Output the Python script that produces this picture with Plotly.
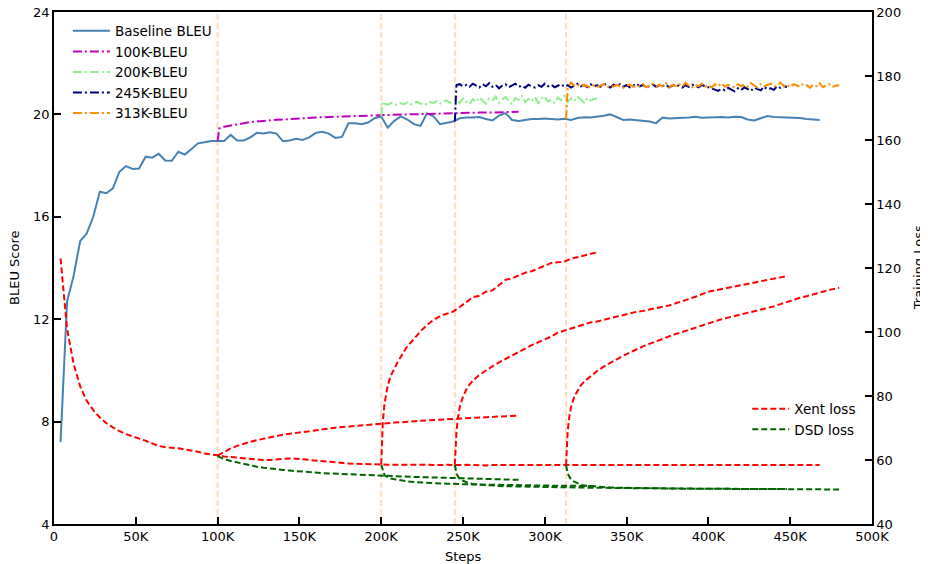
import plotly.graph_objects as go

# ---------------- data ----------------
baseline_steps = list(range(4000, 468001, 4000))
baseline_bleu = [
    7.2, 12.7, 13.7, 15.05, 15.35, 16.0, 16.98, 16.92, 17.11, 17.76,
    17.98, 17.87, 17.89, 18.35, 18.31, 18.46, 18.2, 18.19, 18.54, 18.43,
    18.65, 18.87, 18.91, 18.96, 18.96, 18.96, 19.2, 18.98, 18.98, 19.1,
    19.28, 19.25, 19.3, 19.25, 18.95, 18.98, 19.05, 19.0, 19.1, 19.28,
    19.32, 19.25, 19.08, 19.12, 19.65, 19.65, 19.62, 19.68, 19.85, 19.92,
    19.48, 19.75, 19.92, 19.8, 19.62, 19.55, 20.04, 19.92, 19.62, 19.66,
    19.72, 19.85, 19.88, 19.88, 19.9, 19.82, 19.76, 19.95, 20.05, 19.78,
    19.74, 19.78, 19.82, 19.82, 19.84, 19.82, 19.8, 19.83, 19.78, 19.86,
    19.89, 19.88, 19.91, 19.95, 20.0, 19.9, 19.78, 19.8, 19.77, 19.76,
    19.72, 19.66, 19.88, 19.84, 19.85, 19.85, 19.88, 19.91, 19.87, 19.88,
    19.89, 19.9, 19.88, 19.91, 19.9, 19.8, 19.76, 19.86, 19.94, 19.9,
    19.89, 19.88, 19.89, 19.86, 19.82, 19.79, 19.78,
]
baseline_xent = [
    123.0, 101.0, 90.0, 83.0, 78.5, 75.6, 73.3, 71.5, 70.2, 69.0,
    68.1, 67.4, 66.9, 66.0, 65.2, 64.4, 64.0, 63.9, 63.7, 63.3,
    63.0, 62.6, 62.0, 61.8, 61.5, 61.1, 60.9, 60.7, 60.6, 60.4,
    60.2, 60.0, 60.0, 60.2, 60.4, 60.5, 60.4, 60.2, 60.0, 59.8,
    59.5, 59.3, 59.1, 59.0, 58.9, 58.8, 58.8, 58.7, 58.7, 58.6,
    58.5, 58.6, 58.5, 58.5, 58.4, 58.5, 58.5, 58.4, 58.4, 58.5,
    58.4, 58.4, 58.5, 58.4, 58.4, 58.3, 58.4, 58.4, 58.5, 58.4,
    58.4, 58.4, 58.3, 58.4, 58.4, 58.4, 58.5, 58.4, 58.4, 58.4,
    58.4, 58.5, 58.4, 58.4, 58.3, 58.4, 58.4, 58.4, 58.4, 58.5,
    58.4, 58.4, 58.4, 58.3, 58.4, 58.4, 58.4, 58.5, 58.4, 58.4,
    58.4, 58.3, 58.4, 58.4, 58.4, 58.4, 58.5, 58.4, 58.4, 58.4,
    58.4, 58.4, 58.3, 58.4, 58.4, 58.4, 58.4,
]

ft100_bleu_steps = [100000, 101000] + list(range(104000, 284001, 4000))
ft100_bleu = [
    18.96, 19.45,
    19.52, 19.57, 19.62, 19.66, 19.70, 19.72, 19.75, 19.77, 19.79, 19.80,
    19.82, 19.83, 19.85, 19.86, 19.88, 19.89, 19.90, 19.91, 19.92, 19.93,
    19.94, 19.95, 19.95, 19.96, 19.97, 19.98, 19.98, 19.99, 20.00, 20.01,
    20.01, 20.02, 20.03, 20.03, 20.04, 20.05, 20.05, 20.06, 20.06, 20.07,
    20.07, 20.08, 20.08, 20.09, 20.09, 20.10,
]

ft200_bleu_steps = [200000, 201000] + list(range(202000, 332001, 2000))
ft200_bleu = [
    19.92, 20.5,
    20.42, 20.38, 20.45, 20.40, 20.36, 20.44, 20.40, 20.47, 20.39, 20.43,
    20.50, 20.41, 20.46, 20.38, 20.48, 20.44, 20.52, 20.42, 20.47, 20.55,
    20.45, 20.50,
    20.58, 20.44, 20.62, 20.50, 20.40, 20.60, 20.48, 20.66, 20.52, 20.42,
    20.62, 20.55, 20.70, 20.46, 20.58, 20.68, 20.50, 20.40, 20.64, 20.56,
    20.72, 20.48, 20.60, 20.52, 20.68, 20.44, 20.62, 20.70, 20.50, 20.58,
    20.45, 20.66, 20.55, 20.72, 20.48, 20.62, 20.52, 20.68, 20.58, 20.46,
    20.64, 20.55, 20.60, 20.62,
]

ft245_bleu_steps = [245000, 246000] + list(range(248000, 448001, 2000))
ft245_bleu = [
    19.72, 21.15,
    21.18, 21.10, 21.15, 21.08, 21.20, 21.12, 21.05, 21.18, 21.10, 21.22,
    21.08, 21.15, 21.02, 21.12, 21.18, 21.06, 21.14, 21.20, 21.08, 21.12,
    21.04, 21.16, 21.10, 21.05, 21.14, 21.08, 21.20,
    21.10, 21.16, 21.06, 21.12, 21.18, 21.08, 21.14, 21.05, 21.12, 21.20,
    21.10, 21.15, 21.06, 21.18, 21.10, 21.14, 21.08, 21.22, 21.12, 21.05,
    21.16, 21.10, 21.18, 21.08, 21.14, 21.06, 21.12, 21.20, 21.10, 21.15,
    21.05, 21.12, 21.18, 21.08, 21.14, 21.10, 21.16, 21.06, 21.12, 21.18,
    21.10, 21.05, 21.14, 21.08, 21.16, 21.12, 21.06, 21.15, 21.10, 21.08,
    21.02, 20.96, 20.92, 21.00, 20.94, 21.04, 20.98, 20.90, 21.02, 20.95,
    21.06, 20.98, 20.92, 21.04, 21.00, 20.94, 21.08, 20.98, 21.02, 20.96,
    21.10, 21.04, 21.12, 21.06,
]

ft313_bleu_steps = [313000, 314000] + list(range(316000, 480001, 2000))
ft313_bleu = [
    19.82, 21.0,
    21.25, 21.12, 21.18, 21.08, 21.15, 21.10, 21.05, 21.14, 21.08, 21.12,
    21.18, 21.06, 21.12, 21.08, 21.15, 21.10, 21.04, 21.12, 21.16, 21.08,
    21.14, 21.10, 21.18,
    21.06, 21.14, 21.20, 21.08, 21.16, 21.10, 21.22, 21.05, 21.15, 21.10,
    21.18, 21.08, 21.24, 21.12, 21.06, 21.16, 21.10, 21.20, 21.08, 21.14,
    21.05, 21.18, 21.10, 21.22, 21.08, 21.15, 21.12, 21.06, 21.18, 21.10,
    21.16, 21.08, 21.22, 21.12, 21.05, 21.18, 21.10, 21.15, 21.20, 21.08,
    21.14, 21.24, 21.10, 21.16, 21.06, 21.18, 21.12, 21.08, 21.20, 21.14,
    21.04, 21.16, 21.10, 21.22, 21.06, 21.14, 21.18, 21.08, 21.12, 21.15,
]

ft100_loss_steps = list(range(100000, 284001, 4000))
ft100_xent = [
    61.4, 62.6, 63.6, 64.4, 65.1, 65.7, 66.2, 66.7, 67.1, 67.5,
    67.9, 68.2, 68.5, 68.8, 69.1, 69.4, 69.6, 69.9, 70.1, 70.3,
    70.5, 70.7, 70.9, 71.1, 71.2, 71.4, 71.5, 71.7, 71.8, 72.0,
    72.1, 72.3, 72.4, 72.5, 72.6, 72.8, 72.9, 73.0, 73.1, 73.2,
    73.3, 73.4, 73.5, 73.6, 73.7, 73.8, 73.9,
]
ft100_dsd = [
    61.2, 60.3, 59.7, 59.2, 58.7, 58.3, 57.9, 57.6, 57.3, 57.1,
    56.9, 56.7, 56.5, 56.3, 56.2, 56.0, 55.9, 55.8, 55.7, 55.6,
    55.5, 55.4, 55.3, 55.2, 55.1, 55.0, 54.95, 54.9, 54.85, 54.8,
    54.7, 54.65, 54.6, 54.5, 54.45, 54.4, 54.35, 54.3, 54.25, 54.2,
    54.1, 54.05, 54.0, 53.95, 53.9, 53.85, 53.8,
]

ft200_loss_steps = [200000, 200500, 201000, 202000, 203000, 204000, 206000,
                    208000, 210000, 212000] + list(range(216000, 332001, 4000))
ft200_xent = [
    58.7, 66.0, 72.0, 77.5, 81.0, 83.3, 86.5, 88.7, 90.5, 92.3,
    95.6, 97.8, 100.2, 102.2, 103.8, 105.0, 105.8, 106.4, 107.8, 109.3,
    110.9, 111.3, 112.6, 113.0, 114.8, 116.3, 116.8, 117.6, 118.5, 119.0,
    119.9, 120.6, 121.6, 121.8, 122.0, 122.9, 123.4, 123.8, 124.2, 124.9,
]
ft200_dsd = [
    58.6, 57.6, 56.5, 55.3, 54.9, 54.6, 54.2, 54.0, 53.8, 53.6,
    53.3, 53.1, 52.95, 52.8, 52.7, 52.65, 52.6, 52.5, 52.45, 52.4,
    52.35, 52.3, 52.3, 52.25, 52.2, 52.2, 52.15, 52.1, 52.1, 52.05,
    52.0, 52.0, 52.0, 51.95, 51.95, 51.9, 51.9, 51.9, 51.85, 51.85,
]

ft245_loss_steps = [245000, 245500, 246000, 247000, 248000, 250000, 252000,
                    254000, 256000] + list(range(260000, 448001, 4000))
ft245_xent = [
    58.5, 64.0, 69.0, 73.5, 76.5, 79.8, 82.0, 83.6, 84.8,
    86.6, 88.0, 89.3, 90.5, 91.6, 92.7, 93.8, 95.0, 95.9, 96.8,
    97.6, 98.6, 99.8, 100.4, 101.0, 101.8, 102.4, 103.0, 103.3, 103.8,
    104.3, 104.9, 105.4, 105.9, 106.3, 106.6, 107.1, 107.5, 107.9, 108.3,
    108.9, 109.6, 110.3, 111.0, 111.8, 112.6, 113.0, 113.4, 113.9, 114.4,
    114.8, 115.2, 115.6, 116.0, 116.4, 116.8, 117.1, 117.5,
]
ft245_dsd = [
    58.5, 57.0, 55.8, 54.8, 54.2, 53.5, 53.0, 52.7, 52.5,
    52.3, 52.1, 52.0, 51.9, 51.8, 51.75, 51.7, 51.65, 51.6, 51.55,
    51.5, 51.5, 51.45, 51.4, 51.4, 51.35, 51.35, 51.3, 51.3, 51.3,
    51.25, 51.25, 51.2, 51.2, 51.2, 51.15, 51.15, 51.15, 51.1, 51.1,
    51.1, 51.1, 51.05, 51.05, 51.05, 51.0, 51.0, 51.0, 51.0, 51.0,
    50.95, 50.95, 50.95, 50.95, 50.9, 50.9, 50.9, 50.9,
]

ft313_loss_steps = [313000, 313500, 314000, 315000, 316000, 318000, 320000,
                    322000, 324000] + list(range(328000, 480001, 4000))
ft313_xent = [
    58.4, 64.0, 69.0, 73.5, 76.5, 79.8, 81.8, 83.3, 84.5,
    86.3, 87.8, 89.2, 90.4, 91.6, 92.6, 93.6, 94.6, 95.5, 96.3,
    97.1, 97.9, 98.7, 99.4, 100.0, 100.7, 101.4, 102.1, 102.8, 103.4,
    104.0, 104.5, 105.0, 105.4, 105.9, 106.5, 107.0, 107.5, 108.0, 108.7,
    109.4, 110.1, 110.7, 111.2, 111.8, 112.4, 112.9, 113.4, 113.8,
]
ft313_dsd = [
    58.4, 57.0, 55.8, 54.8, 54.0, 53.2, 52.7, 52.3, 52.0,
    51.8, 51.65, 51.5, 51.4, 51.35, 51.3, 51.25, 51.2, 51.2, 51.15,
    51.15, 51.1, 51.1, 51.1, 51.05, 51.05, 51.05, 51.0, 51.0, 51.0,
    51.0, 50.95, 50.95, 50.95, 50.95, 50.9, 50.9, 50.9, 50.9, 50.9,
    50.9, 50.85, 50.85, 50.85, 50.85, 50.85, 50.8, 50.8, 50.8,
]

finetune_starts = [100000, 200000, 245000, 313000]

x_tick_vals = [0, 50000, 100000, 150000, 200000, 250000, 300000, 350000, 400000, 450000, 500000]
x_tick_text = ["0", "50K", "100K", "150K", "200K", "250K", "300K", "350K", "400K", "450K", "500K"]
bleu_ticks = [4, 8, 12, 16, 20, 24]
loss_ticks = [40, 60, 80, 100, 120, 140, 160, 180, 200]

pairs = [
    (baseline_steps, baseline_bleu), (baseline_steps, baseline_xent),
    (ft100_bleu_steps, ft100_bleu), (ft200_bleu_steps, ft200_bleu),
    (ft245_bleu_steps, ft245_bleu), (ft313_bleu_steps, ft313_bleu),
    (ft100_loss_steps, ft100_xent), (ft100_loss_steps, ft100_dsd),
    (ft200_loss_steps, ft200_xent), (ft200_loss_steps, ft200_dsd),
    (ft245_loss_steps, ft245_xent), (ft245_loss_steps, ft245_dsd),
    (ft313_loss_steps, ft313_xent), (ft313_loss_steps, ft313_dsd),
]
for i, (a, b) in enumerate(pairs):
    assert len(a) == len(b), (i, len(a), len(b))

# ---------------- figure ----------------
FONT = "DejaVu Sans"
DASHDOT = "9px,3px,2px,3px"
DASH = "6px,3px"

fig = go.Figure()

for s in finetune_starts:
    fig.add_shape(type="line", xref="x", yref="paper", x0=s, x1=s, y0=0, y1=1,
                  line=dict(color="#FFDDBE", width=2, dash="6px,3px"), layer="below")

loss_sets = [
    (baseline_steps, baseline_xent, None),
    (ft100_loss_steps, ft100_xent, ft100_dsd),
    (ft200_loss_steps, ft200_xent, ft200_dsd),
    (ft245_loss_steps, ft245_xent, ft245_dsd),
    (ft313_loss_steps, ft313_xent, ft313_dsd),
]
for i, (st, xe, dsd) in enumerate(loss_sets):
    fig.add_trace(go.Scatter(x=st, y=xe, mode="lines", yaxis="y2",
                             name="Xent loss", legend="legend2", legendgroup="xent",
                             showlegend=(i == 0),
                             line=dict(color="#FF0000", width=2, dash=DASH)))
for i, (st, xe, dsd) in enumerate(loss_sets):
    if dsd is None:
        continue
    fig.add_trace(go.Scatter(x=st, y=dsd, mode="lines", yaxis="y2",
                             name="DSD loss", legend="legend2", legendgroup="dsd",
                             showlegend=(i == 1),
                             line=dict(color="#006400", width=2, dash=DASH)))

fig.add_trace(go.Scatter(x=baseline_steps, y=baseline_bleu, mode="lines", name="Baseline BLEU",
                         line=dict(color="#4682B4", width=2)))
fig.add_trace(go.Scatter(x=ft100_bleu_steps, y=ft100_bleu, mode="lines", name="100K-BLEU",
                         line=dict(color="#BF00BF", width=2, dash=DASHDOT)))
fig.add_trace(go.Scatter(x=ft200_bleu_steps, y=ft200_bleu, mode="lines", name="200K-BLEU",
                         line=dict(color="#90EE90", width=2, dash=DASHDOT)))
fig.add_trace(go.Scatter(x=ft245_bleu_steps, y=ft245_bleu, mode="lines", name="245K-BLEU",
                         line=dict(color="#000080", width=2, dash=DASHDOT)))
fig.add_trace(go.Scatter(x=ft313_bleu_steps, y=ft313_bleu, mode="lines", name="313K-BLEU",
                         line=dict(color="#FF8C00", width=2, dash=DASHDOT)))

axis_common = dict(showline=True, linecolor="black", linewidth=1.5, ticks="inside",
                   ticklen=7, tickwidth=1.5, tickcolor="black", showgrid=False,
                   zeroline=False, automargin=False, ticklabeloverflow="allow",
                   tickfont=dict(family=FONT, size=13, color="black"))

title_font = dict(family=FONT, size=13, color="black")

# the page body adds an 8px offset, so the figure is 920x556 and margins are shifted
fig.update_layout(
    width=920, height=556,
    margin=dict(l=46, r=56, t=4, b=40),
    paper_bgcolor="white", plot_bgcolor="white",
    font=dict(family=FONT, size=13, color="black"),
    xaxis=dict(range=[0, 500000], tickvals=x_tick_vals, ticktext=x_tick_text,
               mirror=True, **axis_common),
    yaxis=dict(range=[4, 24], tickvals=bleu_ticks, **axis_common),
    yaxis2=dict(range=[40, 200], tickvals=loss_ticks, overlaying="y", side="right",
                **axis_common),
    legend=dict(x=0.017, y=0.993, xanchor="left", yanchor="top",
                bgcolor="rgba(0,0,0,0)", font=dict(family=FONT, size=13.5),
                tracegroupgap=0, itemwidth=37),
    legend2=dict(x=0.8475, y=0.255, xanchor="left", yanchor="top",
                 bgcolor="rgba(0,0,0,0)", font=dict(family=FONT, size=13.5),
                 tracegroupgap=0, itemwidth=37),
    showlegend=True,
    annotations=[
        dict(text="Steps", xref="paper", yref="paper", x=0.5, y=-0.0625,
             xanchor="center", yanchor="middle", showarrow=False, font=title_font),
        dict(text="BLEU Score", xref="paper", yref="paper", x=-0.0489, y=0.5,
             xanchor="center", yanchor="middle", textangle=-90, showarrow=False,
             font=title_font),
        dict(text="Training Loss", xref="paper", yref="paper", x=1.0565, y=0.5,
             xanchor="center", yanchor="middle", textangle=-90, showarrow=False,
             font=title_font),
    ],
)

fig.write_html("out.html")
